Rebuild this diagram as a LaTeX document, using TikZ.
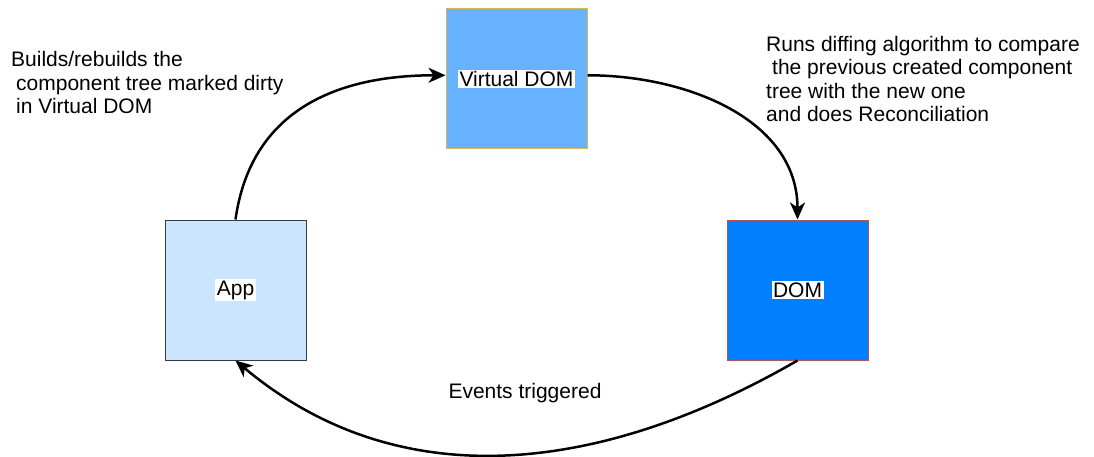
\documentclass[tikz,border=0pt]{standalone}
\usepackage{fontspec}
\setmainfont{Liberation Sans}
\usetikzlibrary{arrows.meta}
\definecolor{vdomfill}{HTML}{66B2FF}
\definecolor{vdomline}{HTML}{D6B656}
\definecolor{domfill}{HTML}{007FFF}
\definecolor{domline}{HTML}{B85450}
\definecolor{appfill}{HTML}{CCE5FF}
\definecolor{appline}{HTML}{36393D}
\tikzset{
  box/.style={draw, line width=1pt, minimum width=141pt, minimum height=140pt, inner sep=0pt},
  boxlabel/.style={fill=white, inner sep=1.5pt, font=\fontsize{21pt}{24pt}\selectfont},
  note/.style={inner sep=0pt, align=left, font=\fontsize{21pt}{23.3pt}\selectfont},
  flow/.style={line width=2.5pt, -{Stealth[length=17pt,width=15pt,inset=5pt]}},
}
\begin{document}
\begin{tikzpicture}[x=1pt,y=1pt]
\useasboundingbox (0,0) rectangle (1094,-457);
\node[box, fill=vdomfill, draw=vdomline] (vdom) at (516.5,-79) {};
\node[box, fill=domfill, draw=domline] (dom) at (797.5,-290) {};
\node[box, fill=appfill, draw=appline] (app) at (235.5,-290) {};
\node[boxlabel] (vdomlabel) at (vdom.center) {Virtual DOM};
\node[boxlabel] (domlabel) at (dom.center) {DOM};
\node[boxlabel] (applabel) at (app.center) {App};

\draw[flow] (app.north) to[out=82,in=180,looseness=1.1] (vdom.177);
\draw[flow] (vdom.3) to[out=0,in=90] (dom.north);
\draw[flow] (dom.south) to[out=-150,in=-40] (app.south);

\node[note, anchor=base west] (buildnote) at (11,-113.5)
  {Builds/rebuilds the\\\hspace*{5pt}component tree marked dirty\\\hspace*{5pt}in Virtual DOM};
\node[note, anchor=base west] (runsnote) at (766,-121.5)
  {Runs diffing algorithm to compare\\\hspace*{6pt}the previous created component\\tree with the new one\\and does Reconciliation};
\node[note, anchor=base] (eventsnote) at (525,-398) {Events triggered};
\end{tikzpicture}
\end{document}
